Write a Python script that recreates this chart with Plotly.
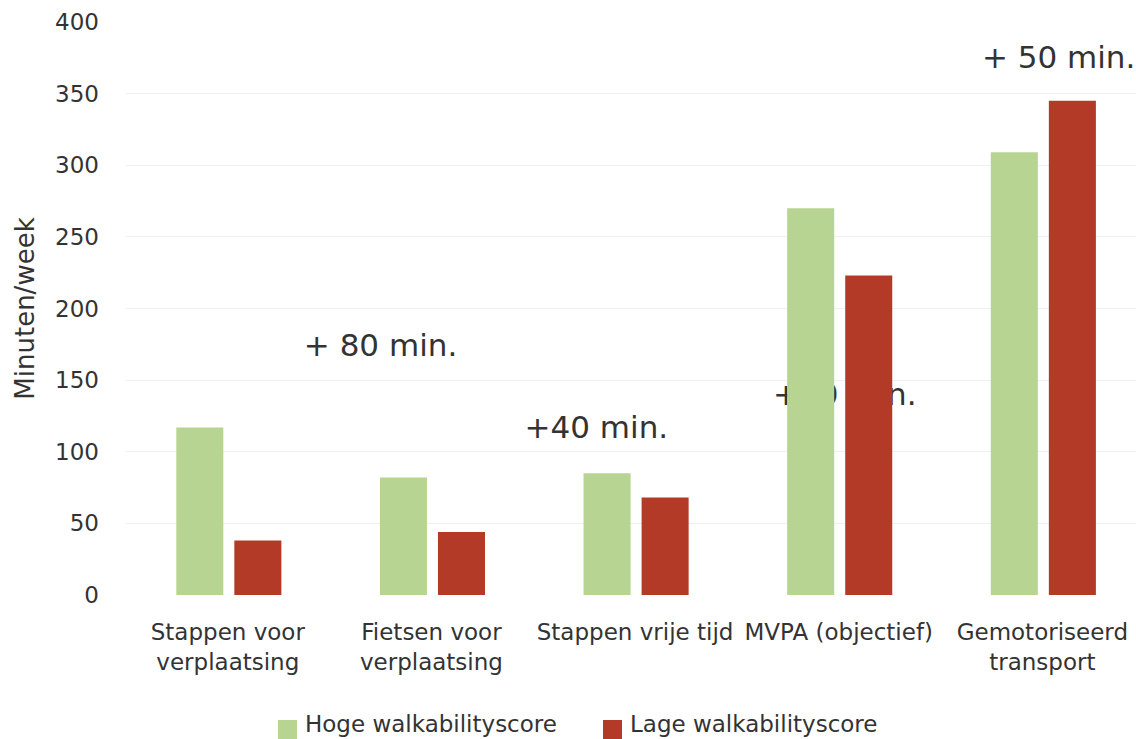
import plotly.graph_objects as go

categories = ["Stappen voor<br>verplaatsing", "Fietsen voor<br>verplaatsing",
              "Stappen vrije tijd", "MVPA (objectief)", "Gemotoriseerd<br>transport"]
hoge = [117, 82, 85, 270, 309]
lage = [38, 44, 68, 223, 345]

series_names = ["Hoge walkabilityscore", "Lage walkabilityscore"]
series_colors = ["#b8d492", "#b33a26"]

note_text = ["+ 80 min.", "+40 min.", "+50 min.", "+ 50 min."]
note_x = [0.75, 1.81, 3.03, 4.08]
note_y = [172, 115, 138, 373]

y_ticks = [0, 50, 100, 150, 200, 250, 300, 350, 400]

FONT = "DejaVu Sans"
TXT = "#333333"
x_range = [-0.5, 4.46]
y_range = [0, 400]

fig = go.Figure()

# difference notes sit on the base axes so the bars (overlay axes) cover them
fig.add_trace(go.Scatter(
    x=note_x, y=note_y, text=note_text, mode="text",
    textfont=dict(family=FONT, size=31, color=TXT),
    textposition="middle center", showlegend=False, hoverinfo="skip",
    xaxis="x", yaxis="y",
))

for vals, name, col, off in zip([hoge, lage], series_names, series_colors, [-0.253, 0.032]):
    fig.add_trace(go.Bar(
        x=list(range(len(categories))), y=vals, name=name,
        marker=dict(color=col, line=dict(width=0)),
        width=0.231, offset=off, showlegend=False,
        xaxis="x2", yaxis="y2",
    ))

# legend row under the chart: swatch + label per series
shapes = []
annotations = []
legend_x = [278, 603]  # swatch left edges in px
for name, col, lx in zip(series_names, series_colors, legend_x):
    shapes.append(dict(type="rect", xref="paper", yref="paper",
                       x0=(lx - 126) / 1010, x1=(lx + 19 - 126) / 1010,
                       y0=(595 - 739) / 573, y1=(595 - 720) / 573,
                       fillcolor=col, line=dict(width=0)))
    annotations.append(dict(text=name, xref="paper", yref="paper",
                            x=(lx + 25 - 126) / 1010, xanchor="left",
                            y=(595 - 724) / 573, yanchor="middle",
                            showarrow=False, font=dict(size=23, color=TXT, family=FONT)))

fig.update_layout(
    width=1136, height=739,
    margin=dict(l=126, r=0, t=22, b=144),
    paper_bgcolor="white", plot_bgcolor="white",
    font=dict(family=FONT, color=TXT),
    barmode="overlay",
    showlegend=False,
    shapes=shapes, annotations=annotations,
    xaxis=dict(range=x_range, tickmode="array",
               tickvals=list(range(len(categories))), ticktext=categories,
               tickfont=dict(size=23, color=TXT), showgrid=False,
               zeroline=False, showline=False, ticks="", automargin=False,
               ticklabelstandoff=21),
    yaxis=dict(range=y_range, tickvals=y_ticks, tickfont=dict(size=23, color=TXT),
               showgrid=True, gridcolor="#f0f0f0", gridwidth=1,
               zeroline=False, showline=False, ticks="", automargin=False,
               ticklabelstandoff=26,
               title=dict(text="Minuten/week", font=dict(size=26, color=TXT), standoff=12)),
    xaxis2=dict(range=x_range, overlaying="x", visible=False),
    yaxis2=dict(range=y_range, overlaying="y", visible=False),
)

fig.write_html("out.html")
